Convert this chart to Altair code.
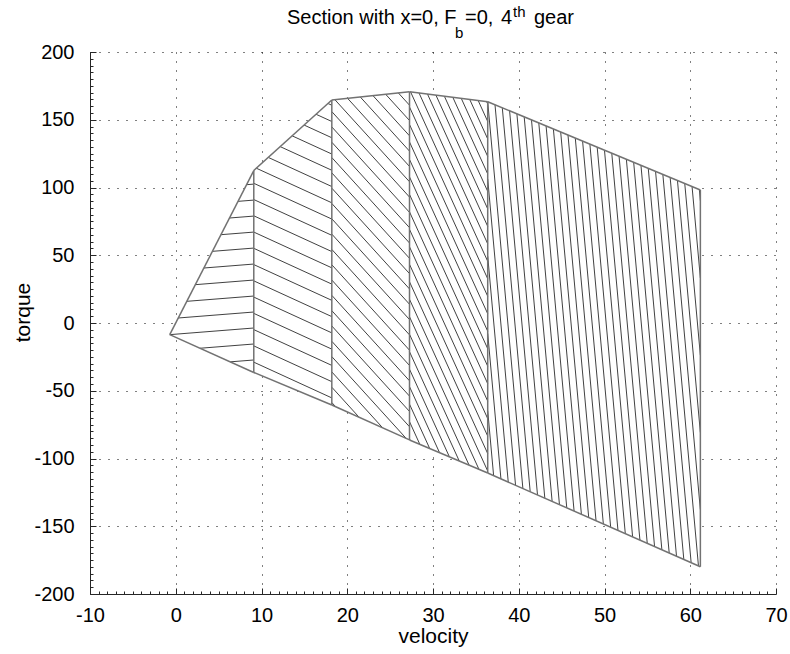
import altair as alt
import pandas as pd

FONT = "Liberation Sans, Arial, Helvetica, sans-serif"
PLOT_W, PLOT_H = 686, 542

# Section boundaries (velocity) and the upper / lower torque limit at each of them
bound_velocity = [-0.7, 9.1, 18.2, 27.26, 36.38, 61.18]
upper_torque = [-8.6, 112.5, 164.6, 170.7, 163.3, 98.2]
lower_torque = [-8.6, -36.5, -60.5, -86.3, -110.7, -179.9]

# Hatching of each section: slope (torque per unit velocity), vertical step between
# neighbouring lines, and the torque where one of the lines meets the section's left edge
hatch_slope = [0.5, -2.9, -6.96, -13.9, -69.6]
hatch_step = [11.8, 12.0, 11.3, 12.9, 57.0]
hatch_anchor = [-8.6, 103.1, 156.0, 159.4, 163.3]

x_ticks = list(range(-10, 71, 10))
y_ticks = list(range(-200, 201, 50))
x_minor = list(range(-10, 71))
y_minor = list(range(-200, 201, 5))

# ---- hatch segments, clipped to each section ----------------------------------
rows = []
for i in range(len(hatch_slope)):
    xa, xb = bound_velocity[i], bound_velocity[i + 1]
    ta, tb = upper_torque[i], upper_torque[i + 1]
    ba, bb = lower_torque[i], lower_torque[i + 1]
    w = xb - xa
    su, sl = (tb - ta) / w, (bb - ba) / w
    m = hatch_slope[i]
    for k in range(-80, 81):
        c = hatch_anchor[i] + k * hatch_step[i]
        lo, hi = 0.0, w
        # stay below the upper edge and above the lower edge
        for p, q in ((ta - c, su - m), (c - ba, m - sl)):
            if abs(q) < 1e-12:
                if p < 0:
                    lo, hi = 1.0, 0.0
            elif q > 0:
                lo = max(lo, -p / q)
            else:
                hi = min(hi, -p / q)
        if hi - lo > 1e-6:
            rows.append({
                "v1": xa + lo, "t1": c + m * lo,
                "v2": xa + hi, "t2": c + m * hi,
            })
hatch_df = pd.DataFrame(rows)

# ---- outline: upper edge, lower edge and the vertical section boundaries ---------
edges = []
for i in range(len(bound_velocity) - 1):
    edges.append({"v1": bound_velocity[i], "t1": upper_torque[i],
                  "v2": bound_velocity[i + 1], "t2": upper_torque[i + 1]})
    edges.append({"v1": bound_velocity[i], "t1": lower_torque[i],
                  "v2": bound_velocity[i + 1], "t2": lower_torque[i + 1]})
for i in range(1, len(bound_velocity)):
    edges.append({"v1": bound_velocity[i], "t1": lower_torque[i],
                  "v2": bound_velocity[i], "t2": upper_torque[i]})
edge_df = pd.DataFrame(edges)

fill_df = pd.DataFrame({"v": bound_velocity, "up": upper_torque, "lo": lower_torque})

xs = alt.Scale(domain=[-10, 70], nice=False, zero=False)
ys = alt.Scale(domain=[-200, 200], nice=False, zero=False)

# plain hyphen for negative numbers
PLAIN_LABEL = "'' + datum.value"

main_x_axis = alt.Axis(
    values=x_ticks, labelExpr=PLAIN_LABEL, grid=True, gridDash=[1, 8],
    gridColor="#000000", gridWidth=1, gridOpacity=1, domain=True,
    domainColor="#262626", domainWidth=1, ticks=False, tickSize=0,
    labelFont=FONT, labelFontSize=20, labelColor="#000000", labelPadding=11,
    labelFlush=False, labelOverlap=False,
    title="velocity", titleFont=FONT, titleFontSize=21, titleFontWeight="normal",
    titleColor="#000000", titleBaseline="alphabetic", titleY=48,
)
main_y_axis = alt.Axis(
    values=y_ticks, labelExpr=PLAIN_LABEL, grid=True, gridDash=[1, 8],
    gridColor="#000000", gridWidth=1, gridOpacity=1, domain=True,
    domainColor="#262626", domainWidth=1, ticks=False, tickSize=0,
    labelFont=FONT, labelFontSize=20, labelColor="#000000", labelPadding=16,
    labelFlush=False, labelOverlap=False,
    title="torque", titleFont=FONT, titleFontSize=21, titleFontWeight="normal",
    titleColor="#000000", titleBaseline="alphabetic", titleX=-61, titleY=260,
)
# inward tick marks along the bottom and left edges
tick_x_axis = alt.Axis(
    orient="top", offset=-PLOT_H, values=x_minor, labels=False, domain=False,
    grid=False, title=None, tickColor="#262626", tickWidth=1,
    tickSize={"condition": {"test": "datum.value % 10 === 0", "value": 6}, "value": 3},
)
tick_y_axis = alt.Axis(
    orient="right", offset=-PLOT_W, values=y_minor, labels=False, domain=False,
    grid=False, title=None, tickColor="#262626", tickWidth=1,
    tickSize={"condition": {"test": "datum.value % 50 === 0", "value": 6}, "value": 3},
)

fill = alt.Chart(fill_df).mark_area(color="white", opacity=1).encode(
    x=alt.X("v:Q", scale=xs, axis=main_x_axis),
    y=alt.Y("up:Q", scale=ys, axis=main_y_axis),
    y2="lo:Q",
)
hatch = alt.Chart(hatch_df).mark_rule(color="#2b2b2b", strokeWidth=0.9).encode(
    x=alt.X("v1:Q", scale=xs, axis=tick_x_axis),
    y=alt.Y("t1:Q", scale=ys, axis=tick_y_axis),
    x2="v2:Q",
    y2="t2:Q",
)
outline = alt.Chart(edge_df).mark_rule(color="#727272", strokeWidth=1.5).encode(
    x=alt.X("v1:Q", scale=xs, axis=None),
    y=alt.Y("t1:Q", scale=ys, axis=None),
    x2="v2:Q",
    y2="t2:Q",
)

# title "Section with x=0, F_b=0, 4^th gear" built from pieces (subscript / superscript)
title_pieces = [
    ("Section with x=0, F", 197, -28, 20),
    ("b", 365, -14, 15),
    ("=0,", 375, -28, 20),
    ("4", 411, -28, 20),
    ("th", 423, -35, 15),
    ("gear", 444, -28, 20),
]
titles = [
    alt.Chart(pd.DataFrame({"s": [txt]})).mark_text(
        align="left", baseline="alphabetic", font=FONT, fontSize=fs, color="#000000"
    ).encode(x=alt.value(px), y=alt.value(py), text="s:N")
    for txt, px, py, fs in title_pieces
]

chart = alt.layer(fill, hatch, outline, *titles).resolve_axis(
    x="independent", y="independent"
).properties(
    width=PLOT_W,
    height=PLOT_H,
    padding={"left": 90, "top": 52, "right": 14, "bottom": 60},
    autosize=alt.AutoSizeParams(type="none"),
    background="white",
).configure_view(stroke=None)

chart.save("out.html", embed_options={"renderer": "svg", "actions": False})
